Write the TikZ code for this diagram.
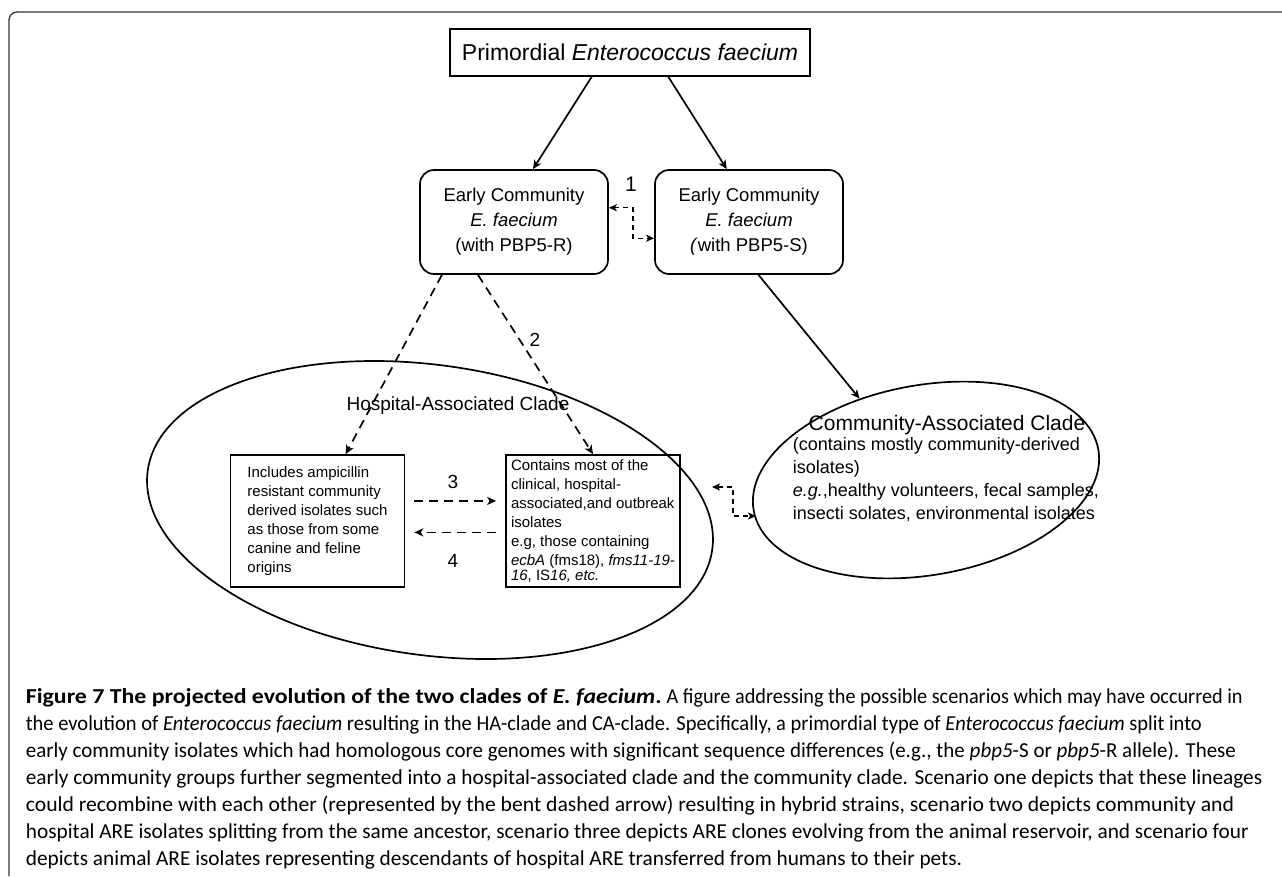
\documentclass[tikz,border=0pt]{standalone}
\usepackage{graphicx}
\usepackage{fontspec}
\setmainfont{Liberation Sans}
\newfontfamily\capfont{Carlito}
\usetikzlibrary{arrows.meta,shapes.geometric,calc}
\begin{document}
\begin{tikzpicture}[x=1pt,y=-1pt,
  line width=1.7pt,
  tip/.style={-{Stealth[length=9pt,width=8pt,inset=2.5pt]}},
  dtip/.style={{Stealth[length=8pt,width=7pt,inset=2pt]}-{Stealth[length=8pt,width=7pt,inset=2pt]}},
  dsh/.style={dash pattern=on 9pt off 6pt},
  bdsh/.style={line width=1.5pt,dash pattern=on 5pt off 4pt},
  ecbox/.style={draw,rounded corners=14pt,minimum width=188pt,minimum height=104pt,align=center,font=\fontsize{18.5}{25}\selectfont,inner sep=0pt},
  hbox/.style={draw,minimum width=174pt,minimum height=132pt,align=left,font=\fontsize{15}{19}\selectfont,inner sep=0pt},
  capline/.style={anchor=base west,inner sep=0pt,font=\capfont\fontsize{21.3}{27}\selectfont},
  lbl/.style={font=\fontsize{19}{22}\selectfont,inner sep=0pt}
]
\useasboundingbox (0,0) rectangle (1282,876);
% frame
\draw[line width=1.3pt,color=black!80,rounded corners=8pt] (9,876) -- (9,12) -- (1282,12);

\node[draw,minimum width=360pt,minimum height=47pt,inner sep=0pt,font=\fontsize{23}{26}\selectfont] (prim) at (630,52.5) {Primordial \textit{Enterococcus faecium}};

\node[ecbox] (ecr) at (514,222) {Early Community\\\textit{E. faecium}\\(with PBP5-R)};
\node[ecbox] (ecs) at (749,222) {Early Community\\\textit{E. faecium}\\\textit{(}with PBP5-S)};

\draw[tip] ($(prim.south west)!0.394!(prim.south east)$) -- ($(ecr.north west)!0.60!(ecr.north east)$);
\draw[tip] ($(prim.south west)!0.606!(prim.south east)$) -- ($(ecs.north west)!0.383!(ecs.north east)$);

\node[lbl,font=\fontsize{21}{24}\selectfont] (n1) at (631,184) {1};
\draw[dtip,bdsh] ($(ecr.north east)!0.365!(ecr.south east)$) -- ++(24,0) |- ($(ecs.north west)!0.654!(ecs.south west)$);

% HA clade
\node[ellipse,draw,minimum width=570pt,minimum height=290pt,inner sep=0pt,rotate=-8] (ha) at (430,510) {};
\node[lbl] (hat) at (458,406) {Hospital-Associated Clade};
\node[hbox] (hl) at (317.5,521) {Includes ampicillin\\resistant community\\derived isolates such\\as those from some\\canine and feline\\origins};
\node[hbox] (hr) at (593,521) {Contains most of the\\clinical, hospital-\\associated,and outbreak\\isolates\\e.g, those containing\\\textit{ecbA} (fms18), \textit{fms11-19-}\\[-4pt]\textit{16}, IS\textit{16, etc.}};

\node[lbl] (n2) at (535,340) {2};
\draw[tip,dsh] ($(ecr.south west)!0.12!(ecr.south east)$) -- ($(hl.north west)!0.66!(hl.north east)$);
\draw[tip,dsh] ($(ecr.south west)!0.31!(ecr.south east)$) -- ($(hr.north west)!0.50!(hr.north east)$);

\node[lbl] (n3) at (453,482) {3};
\node[lbl] (n4) at (453,561) {4};
\draw[tip,dsh] ($(hl.north east)!0.35!(hl.south east)+(9,0)$) -- ($(hr.north west)!0.35!(hr.south west)+(-9,0)$);
\draw[tip,dsh] ($(hr.north west)!0.585!(hr.south west)+(-9,0)$) -- ($(hl.north east)!0.585!(hl.south east)+(9,0)$);

% CA clade
\node[ellipse,draw,minimum width=350pt,minimum height=190pt,inner sep=0pt,rotate=10] (ca) at (926,480) {};
\node[lbl,font=\fontsize{21}{24}\selectfont] (cat) at (947,425) {Community-Associated Clade};
\node[anchor=north west,align=left,inner sep=0pt,font=\fontsize{18}{23}\selectfont] (cab) at (792,437) {(contains mostly community-derived\\isolates)\\\textit{e.g.},healthy volunteers, fecal samples,\\insecti solates, environmental isolates};

\draw[tip] ($(ecs.south west)!0.55!(ecs.south east)$) -- (ca);
\coordinate (hatip) at (712,487);
\coordinate (catip) at (756,516);
\draw[dtip,bdsh] (hatip) -- ++(21,0) |- (catip);

% caption
\node[capline] (c1) at (25,703) {\scalebox{1.12}[1]{\textbf{Figure 7 The projected evolution of the two clades of \textit{E. faecium}.}} \scalebox{0.95}[1]{A figure addressing the possible scenarios which may have occurred in}};
\node[capline] (c2) at (25,730) {\scalebox{0.962}[1]{the evolution of \textit{Enterococcus faecium} resulting in the HA-clade and CA-clade. Specifically, a primordial type of \textit{Enterococcus faecium} split into}};
\node[capline] (c3) at (25,757) {\scalebox{0.985}[1]{early community isolates which had homologous core genomes with significant sequence differences (e.g., the \textit{pbp5}-S or \textit{pbp5}-R allele). These}};
\node[capline] (c4) at (25,784) {early community groups further segmented into a hospital-associated clade and the community clade. Scenario one depicts that these lineages};
\node[capline] (c5) at (25,811) {\scalebox{1.017}[1]{could recombine with each other (represented by the bent dashed arrow) resulting in hybrid strains, scenario two depicts community and}};
\node[capline] (c6) at (25,838) {hospital ARE isolates splitting from the same ancestor, scenario three depicts ARE clones evolving from the animal reservoir, and scenario four};
\node[capline] (c7) at (25,865) {depicts animal ARE isolates representing descendants of hospital ARE transferred from humans to their pets.};
\end{tikzpicture}
\end{document}
